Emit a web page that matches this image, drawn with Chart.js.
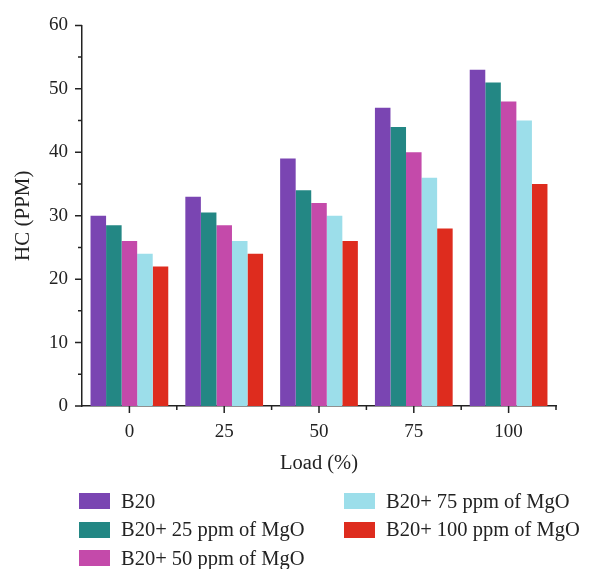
<!DOCTYPE html>
<html>
<head>
<meta charset="utf-8">
<script src="https://cdn.jsdelivr.net/npm/chart.js@4"></script>
<style>
  body { margin: 0; background: #fff; }
  #wrap { position: relative; width: 589px; height: 569px; }
  #box { position: absolute; left: 0; top: 0; width: 589px; height: 480px; }
  #legend { position: absolute; left: 0; top: 0; width: 589px; height: 569px; pointer-events: none;
            font-family: "Liberation Serif", serif; font-size: 20.5px; color: #222; }
  .item { position: absolute; display: flex; align-items: center; white-space: nowrap; }
  .swatch { width: 31px; height: 16px; margin-right: 11px; }
</style>
</head>
<body>
<div id="wrap">
  <div id="box"><canvas id="hcChart"></canvas></div>
  <div id="legend"></div>
</div>
<script>
// data
const loads = ['0', '25', '50', '75', '100'];
const b20 = [30, 33, 39, 47, 53];
const mgo25 = [28.5, 30.5, 34, 44, 51];
const mgo50 = [26, 28.5, 32, 40, 48];
const mgo75 = [24, 26, 30, 36, 45];
const mgo100 = [22, 24, 26, 28, 35];

const seriesNames = ['B20', 'B20+ 25 ppm of MgO', 'B20+ 50 ppm of MgO', 'B20+ 75 ppm of MgO', 'B20+ 100 ppm of MgO'];
const colors = ['#7a45b2', '#238784', '#c44aaa', '#9cdeea', '#de2c1e'];

const axisColor = '#222';
const font = "'Liberation Serif', serif";

// draws the axis tick marks (major + minor) from the scales
const tickMarks = {
    id: 'tickMarks',
    afterDraw(chart) {
        const ctx = chart.ctx;
        const x = chart.scales.x, y = chart.scales.y;
        ctx.save();
        ctx.strokeStyle = axisColor;
        ctx.lineWidth = 1.5;
        ctx.beginPath();
        for (let v = 0; v <= 60; v += 5) {
            const py = y.getPixelForValue(v);
            const len = v % 10 === 0 ? 7 : 4;
            ctx.moveTo(y.right - len, py);
            ctx.lineTo(y.right, py);
        }
        for (let i = 0; i < loads.length; i++) {
            const px = x.getPixelForValue(i);
            ctx.moveTo(px, x.top);
            ctx.lineTo(px, x.top + 7);
            const edge = x.getPixelForValue(i + 0.5);
            ctx.moveTo(edge, x.top);
            ctx.lineTo(edge, x.top + 4);
        }
        ctx.stroke();
        ctx.restore();
    }
};

const ctx = document.getElementById('hcChart').getContext('2d');
const chart = new Chart(ctx, {
    type: 'bar',
    data: {
        labels: loads,
        datasets: [b20, mgo25, mgo50, mgo75, mgo100].map((d, i) => ({
            label: seriesNames[i],
            data: d,
            backgroundColor: colors[i],
            borderWidth: 0,
            categoryPercentage: 0.82,
            barPercentage: 1.0
        }))
    },
    options: {
        responsive: true,
        maintainAspectRatio: false,
        animation: false,
        layout: { padding: { top: 23, right: 33, left: 0, bottom: 0 } },
        plugins: { legend: { display: false }, tooltip: { enabled: false } },
        scales: {
            x: {
                grid: { display: false, drawTicks: false },
                border: { display: true, color: axisColor, width: 1.5 },
                ticks: { color: '#222', font: { family: font, size: 19 }, padding: 15 },
                title: { display: true, text: 'Load (%)', color: '#222', font: { family: font, size: 20.5 }, padding: { top: 2 } },
                afterFit(scale) { scale.height = 74; }
            },
            y: {
                min: 0,
                max: 60,
                grid: { display: false, drawTicks: false },
                border: { display: true, color: axisColor, width: 1.5 },
                ticks: { stepSize: 10, color: '#222', font: { family: font, size: 19 }, padding: 14 },
                title: { display: true, text: 'HC (PPM)', color: '#222', font: { family: font, size: 21 }, padding: { top: 11 } },
                afterFit(scale) { scale.width = 82; }
            }
        }
    },
    plugins: [tickMarks]
});

// legend in two columns, built from the chart datasets
const legend = document.getElementById('legend');
chart.data.datasets.forEach((ds, i) => {
    const col = i < 3 ? 0 : 1;
    const row = i < 3 ? i : i - 3;
    const item = document.createElement('div');
    item.className = 'item';
    item.style.left = (col === 0 ? 79 : 344) + 'px';
    item.style.top = (487 + row * 28.5) + 'px';
    item.style.height = '28px';
    const sw = document.createElement('span');
    sw.className = 'swatch';
    sw.style.background = ds.backgroundColor;
    const tx = document.createElement('span');
    tx.textContent = ds.label;
    item.appendChild(sw);
    item.appendChild(tx);
    legend.appendChild(item);
});
</script>
</body>
</html>
